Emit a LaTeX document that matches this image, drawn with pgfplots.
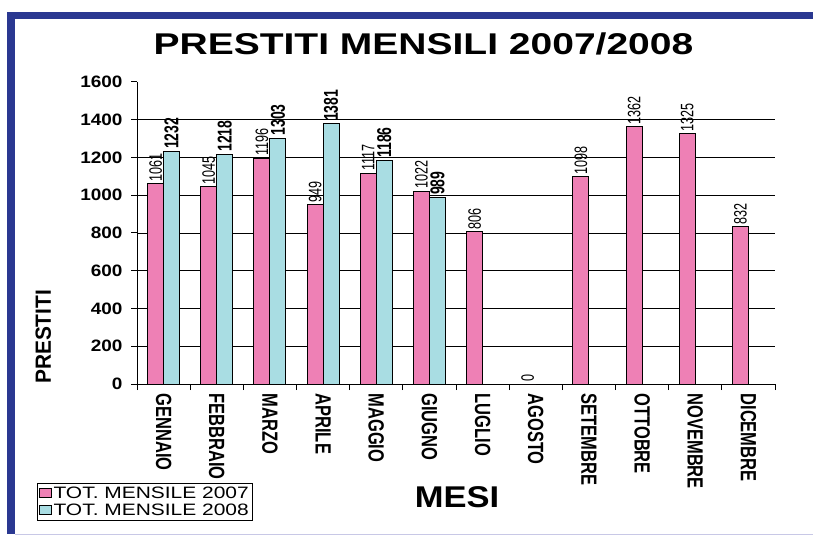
\documentclass[border=0pt]{standalone}
\usepackage{fontspec}
\setmainfont{Liberation Sans}
\newfontfamily\ftitle[FakeStretch=1.3]{Liberation Sans}
\newfontfamily\fwide[FakeStretch=1.15]{Liberation Sans}
\newfontfamily\fleg[FakeStretch=1.27]{Liberation Sans}
\newfontfamily\fmesi[FakeStretch=1.15]{Liberation Sans}
\newfontfamily\fnarrow[FakeStretch=0.75]{Liberation Sans}
\newfontfamily\flab[FakeStretch=0.7]{Liberation Sans}
\newfontfamily\fylab[FakeStretch=0.95]{Liberation Sans}
\usepackage{pgfplots}
\pgfplotsset{compat=1.18}
\definecolor{pinkbar}{RGB}{238,128,181}
\definecolor{bluebar}{RGB}{169,221,227}
\definecolor{frameblue}{RGB}{42,56,145}
\definecolor{framelight}{RGB}{200,200,230}
\begin{document}
\begin{tikzpicture}
\useasboundingbox (0pt,0pt) rectangle (813pt,538pt);
\fill[frameblue] (7pt,519pt) rectangle (813pt,526pt);
\fill[frameblue] (7pt,4pt) rectangle (15pt,526pt);
\draw[framelight, line width=1pt] (15pt,3.5pt) -- (813pt,3.5pt);
\begin{axis}[
  at={(137pt,154pt)}, anchor=south west,
  width=638pt, height=302pt, scale only axis,
  xmin=-0.5, xmax=11.5, ymin=0, ymax=1600,
  axis lines*=left,
  axis line style={black, line width=1pt},
  ybar=0pt, bar width=16pt,
  ytick={0,200,...,1600},
  xtick={0,...,11},
  xticklabels={GENNAIO,FEBBRAIO,MARZO,APRILE,MAGGIO,GIUGNO,LUGLIO,AGOSTO,SETEMBRE,OTTOBRE,NOVEMBRE,DICEMBRE},
  minor xtick={-0.5,0.5,...,11.5},
  major x tick style={draw=none},
  minor x tick style={black, line width=1pt},
  tick align=outside,
  major tick length=6pt, minor tick length=6pt,
  ytick style={black, line width=1pt},
  extra y ticks={200,400,...,1400},
  extra y tick labels={},
  extra y tick style={grid=major, major tick length=0pt},
  major grid style={black, line width=0.8pt},
  /pgf/number format/assume math mode=true,
  /pgf/number format/1000 sep={},
  yticklabel style={font=\fwide\bfseries\fontsize{16.5}{18}\selectfont, xshift=-5pt},
  xticklabel style={font=\fnarrow\bfseries\fontsize{22}{24}\selectfont, rotate=-90, anchor=west},
  title={PRESTITI MENSILI 2007/2008},
  title style={at={(axis description cs:0.449,1.106)}, anchor=center, font=\ftitle\bfseries\fontsize{30}{34}\selectfont},
  xlabel={MESI},
  xlabel style={at={(axis description cs:0.5016,-0.374)}, anchor=center, font=\fmesi\bfseries\fontsize{30}{34}\selectfont},
  ylabel={PRESTITI},
  ylabel style={at={(axis description cs:-0.147,0.156)}, anchor=center, font=\fylab\bfseries\fontsize{22}{24}\selectfont},
  legend style={at={(axis description cs:-0.1567,-0.4536)}, anchor=south west, draw=black, line width=0.8pt,
    font=\fleg\fontsize{16.5}{18}\selectfont, inner sep=1.5pt, row sep=0pt, cells={anchor=west}},
  legend image code/.code={\draw[#1, draw=black, line width=0.6pt] (0pt,-4pt) rectangle (12pt,5pt);},
  clip=false,
]
\addplot[fill=pinkbar, draw=black, line width=1pt,
  nodes near coords,
  nodes near coords style={rotate=90, anchor=west, font=\flab\fontsize{18}{19}\selectfont, black, inner sep=2pt}]
  coordinates {(0,1061)(1,1045)(2,1196)(3,949)(4,1117)(5,1022)(6,806)(7,0)(8,1098)(9,1362)(10,1325)(11,832)};
\addplot[fill=bluebar, draw=black, line width=1pt,
  nodes near coords,
  nodes near coords style={rotate=90, anchor=west, font=\flab\bfseries\fontsize{20}{21}\selectfont, black, inner sep=2pt}]
  coordinates {(0,1232)(1,1218)(2,1303)(3,1381)(4,1186)(5,989)};
\legend{TOT. MENSILE 2007, TOT. MENSILE 2008}
\end{axis}
\end{tikzpicture}
\end{document}
